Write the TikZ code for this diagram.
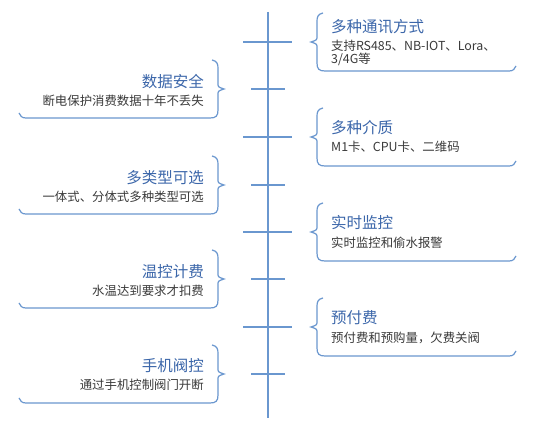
\documentclass[tikz,border=0pt]{standalone}
\usepackage{fontspec}
\setmainfont{Noto Sans CJK SC}
\usetikzlibrary{calc}

\definecolor{lineblue}{HTML}{6A97CF}
\definecolor{titleblue}{HTML}{3C67AA}
\definecolor{textgray}{HTML}{3A3A3A}

% card whose brace opens towards the axis on its left
\newcommand{\rightcard}[1]{%
  \draw[card] (323,#1-29) .. controls (318,#1-28) and (317,#1-25) .. (317,#1-21)
    -- (317,#1-6) .. controls (317,#1-2) .. (311,#1) .. controls (317,#1+2) .. (317,#1+6)
    -- (317,#1+21) .. controls (317,#1+27) and (319,#1+29) .. (325,#1+29)
    -- (509,#1+29) .. controls (513,#1+29) and (515,#1+27) .. (516,#1+24);
}
% same card, mirrored to the left of the axis
\newcommand{\leftcard}[1]{%
  \draw[card] (212,#1-29) .. controls (217,#1-28) and (218,#1-25) .. (218,#1-21)
    -- (218,#1-6) .. controls (218,#1-2) .. (224,#1) .. controls (218,#1+2) .. (218,#1+6)
    -- (218,#1+21) .. controls (218,#1+27) and (216,#1+29) .. (210,#1+29)
    -- (26,#1+29) .. controls (22,#1+29) and (20,#1+27) .. (19,#1+24);
}

\begin{document}
\begin{tikzpicture}[x=1pt, y=-1pt,
    axis/.style={lineblue, line width=1.6pt},
    card/.style={lineblue, line width=1.2pt},
    title/.style={inner sep=0pt, text=titleblue, font=\fontsize{15.5}{18}\selectfont},
    sub/.style={inner sep=0pt, text=textgray, font=\fontsize{12.4}{13}\selectfont, align=left}]
    \useasboundingbox[fill=white] (0,0) rectangle (550,433);

    \coordinate (AxisTop) at (268,12);
    \coordinate (AxisBot) at (268,418);
    \draw[axis] (AxisTop) -- (AxisBot);% the time line
    \foreach \c in {42,137,232,327}{% long ticks for the right cards
      \draw[axis] (243,\c) -- (292,\c);
    }
    \foreach \c in {89,185,279,374}{% short ticks for the left cards
      \draw[axis] (251,\c) -- (285,\c);
    }

    % right side
    \rightcard{42}
    \node[title, anchor=west] (comm) at (331,27) {多种通讯方式};
    \node[sub, anchor=west] (commtext) at (331,52.5) {支持RS485、NB-IOT、Lora、\\3/4G等};
    \rightcard{137}
    \node[title, anchor=west] (medium) at (331,128) {多种介质};
    \node[sub, anchor=west] (mediumtext) at (331,147) {M1卡、CPU卡、二维码};
    \rightcard{232}
    \node[title, anchor=west] (monitor) at (331,223) {实时监控};
    \node[sub, anchor=west] (monitortext) at (331,243) {实时监控和偷水报警};
    \rightcard{327}
    \node[title, anchor=west] (prepay) at (331,318) {预付费};
    \node[sub, anchor=west] (prepaytext) at (331,337.5) {预付费和预购量，欠费关阀};

    % left side
    \leftcard{89}
    \node[title, anchor=east] (datasafe) at (204,81.5) {数据安全};
    \node[sub, anchor=east] (datasafetext) at (204,100.5) {断电保护消费数据十年不丢失};
    \leftcard{185}
    \node[title, anchor=east] (types) at (204,177.5) {多类型可选};
    \node[sub, anchor=east] (typestext) at (204,196.5) {一体式、分体式多种类型可选};
    \leftcard{279}
    \node[title, anchor=east] (tempfee) at (204,271.5) {温控计费};
    \node[sub, anchor=east] (tempfeetext) at (204,290.5) {水温达到要求才扣费};
    \leftcard{374}
    \node[title, anchor=east] (valve) at (204,366) {手机阀控};
    \node[sub, anchor=east] (valvetext) at (204,385) {通过手机控制阀门开断};
\end{tikzpicture}
\end{document}
